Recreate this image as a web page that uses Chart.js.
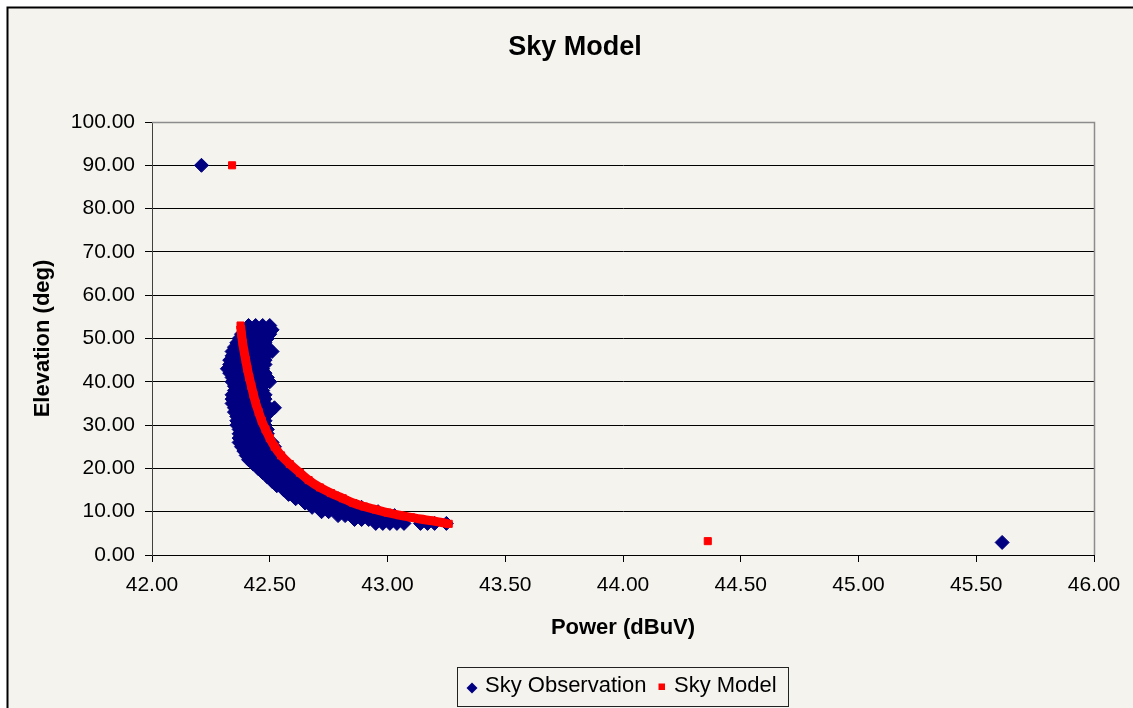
<!DOCTYPE html>
<html>
<head>
<meta charset="utf-8">
<title>Sky Model</title>
<script src="https://cdn.jsdelivr.net/npm/chart.js@4.4.1/dist/chart.umd.min.js"></script>
<style>
  html, body { margin: 0; padding: 0; background: #fff; }
  canvas { display: block; }
</style>
</head>
<body>
<canvas id="skyChart" width="1133" height="708"></canvas>
<script>
/**
 * Sky model vs. sky observation scatter (power against elevation)
 */

var powerRange = [42, 46];
var powerStep = 0.5;
var elevationRange = [0, 100];
var elevationStep = 10;

// observed power, one row per elevation: [elevation, power, power, ...]
var obsUpperRows = [
  [53.0, 42.41, 42.44, 42.47, 42.50],
  [52.0, 42.40, 42.43, 42.46, 42.49, 42.51],
  [51.0, 42.38, 42.41, 42.44, 42.47, 42.50],
  [50.0, 42.37, 42.40, 42.43, 42.46, 42.49],
  [49.0, 42.36, 42.39, 42.42, 42.45, 42.48],
  [48.0, 42.35, 42.38, 42.41, 42.44, 42.47, 42.49],
  [47.0, 42.34, 42.37, 42.40, 42.43, 42.46, 42.51],
  [46.0, 42.34, 42.37, 42.40, 42.43, 42.46, 42.48],
  [45.0, 42.33, 42.36, 42.39, 42.42, 42.45, 42.48],
  [44.0, 42.33, 42.36, 42.39, 42.42, 42.45, 42.48],
  [43.0, 42.32, 42.35, 42.38, 42.41, 42.44, 42.47],
  [42.0, 42.33, 42.36, 42.39, 42.42, 42.45, 42.48],
  [41.0, 42.34, 42.37, 42.40, 42.43, 42.46, 42.49],
  [40.0, 42.34, 42.37, 42.40, 42.43, 42.46, 42.50],
  [39.0, 42.35, 42.38, 42.41, 42.44, 42.47],
  [38.0, 42.35, 42.38, 42.41, 42.44, 42.47],
  [37.0, 42.34, 42.37, 42.40, 42.43, 42.46, 42.48],
  [36.0, 42.34, 42.37, 42.40, 42.43, 42.46, 42.48],
  [35.0, 42.34, 42.37, 42.40, 42.43, 42.46, 42.48],
  [34.0, 42.35, 42.38, 42.41, 42.44, 42.47, 42.52],
  [33.0, 42.35, 42.38, 42.41, 42.44, 42.47, 42.50],
  [32.0, 42.36, 42.39, 42.42, 42.45, 42.48],
  [31.0, 42.36, 42.39, 42.42, 42.45, 42.48],
  [30.0, 42.36, 42.39, 42.42, 42.45, 42.48],
  [29.0, 42.37, 42.40, 42.43, 42.46, 42.49],
  [28.0, 42.37, 42.40, 42.43, 42.46, 42.49],
  [27.0, 42.37, 42.40, 42.43, 42.46, 42.49],
  [26.0, 42.37, 42.40, 42.43, 42.46, 42.49, 42.51],
  [25.0, 42.38, 42.41, 42.44, 42.47, 42.50, 42.52]
];

var obsLowerRows = [
  [24.0, 42.39, 42.42, 42.45, 42.48, 42.51],
  [23.0, 42.40, 42.43, 42.46, 42.49, 42.52],
  [22.0, 42.41, 42.44, 42.47, 42.50, 42.53, 42.55],
  [21.0, 42.43, 42.46, 42.49, 42.52, 42.55, 42.57],
  [20.0, 42.45, 42.48, 42.51, 42.54, 42.57, 42.59],
  [19.0, 42.47, 42.50, 42.53, 42.56, 42.59, 42.61],
  [18.0, 42.49, 42.52, 42.55, 42.58, 42.61, 42.63],
  [17.0, 42.51, 42.54, 42.57, 42.60, 42.63, 42.655],
  [16.0, 42.53, 42.56, 42.59, 42.62, 42.65, 42.685],
  [15.0, 42.56, 42.59, 42.62, 42.65, 42.68, 42.71],
  [14.0, 42.58, 42.61, 42.64, 42.67, 42.70, 42.73, 42.75],
  [13.0, 42.61, 42.64, 42.67, 42.70, 42.73, 42.76, 42.79],
  [12.0, 42.65, 42.68, 42.71, 42.74, 42.77, 42.80, 42.83],
  [11.0, 42.68, 42.71, 42.74, 42.77, 42.80, 42.83, 42.86, 42.89],
  [10.0, 42.72, 42.75, 42.78, 42.81, 42.84, 42.87, 42.90, 42.93, 42.96],
  [9.1, 42.79, 42.82, 42.85, 42.88, 42.91, 42.94, 42.97, 43.00, 43.03],
  [8.2, 42.86, 42.89, 42.92, 42.95, 42.98, 43.01, 43.04],
  [7.3, 42.95, 42.98, 43.01, 43.04, 43.07, 43.14, 43.17, 43.20, 43.25]
];

// [power, elevation]
var obsOutliers = [[42.21, 90.0], [45.61, 2.9]];

var modelCurve = [
  [42.376, 53.0], [42.380, 51.0], [42.385, 49.0], [42.391, 47.0], [42.398, 45.0],
  [42.405, 43.0], [42.413, 41.0], [42.422, 39.0], [42.431, 37.0], [42.441, 35.0],
  [42.453, 33.0], [42.466, 31.0], [42.482, 29.0], [42.500, 27.0], [42.521, 25.0],
  [42.548, 23.0], [42.585, 21.0], [42.628, 19.0], [42.665, 17.3], [42.713, 15.6],
  [42.760, 14.3], [42.810, 13.1], [42.855, 12.0], [42.900, 11.2], [42.950, 10.5],
  [43.000, 9.8], [43.050, 9.2], [43.100, 8.7], [43.140, 8.3], [43.190, 7.9],
  [43.230, 7.5], [43.260, 7.2]
];

var modelOutliers = [[42.34, 90.0], [44.36, 3.2]];

var seriesNames = ["Sky Observation", "Sky Model"];

var NAVY = "#000080";
var RED = "#ff0000";
var FONT = '"Liberation Sans", Arial, sans-serif';


function rowsToPoints(rows) {
  var points = [];
  rows.forEach(function(row) {
    for (var i = 1; i < row.length; i++) {
      points.push({ x : row[i], y : row[0] });
    }
  });
  return points;
}

function pairsToPoints(pairs) {
  return pairs.map(function(p) {
    return { x : p[0], y : p[1] };
  });
}

/**
 * Outer frame, title, plot outline and the boxed legend
 */
var framePlugin = {
  id : "frame",

  beforeDraw : function(chart) {
    var ctx = chart.ctx;
    ctx.save();
    ctx.fillStyle = "#ffffff";
    ctx.fillRect(0, 0, chart.width, chart.height);
    ctx.fillStyle = "#f4f3ee";
    ctx.fillRect(8, 8, chart.width, chart.height);
    ctx.strokeStyle = "#000";
    ctx.lineWidth = 2;
    ctx.strokeRect(7.5, 7.5, chart.width + 20, chart.height + 20);

    ctx.fillStyle = "#000";
    ctx.font = "bold 27px " + FONT;
    ctx.textAlign = "center";
    ctx.textBaseline = "alphabetic";
    ctx.fillText("Sky Model", 575, 55);
    ctx.restore();
  },

  beforeDatasetsDraw : function(chart) {
    var a = chart.chartArea;
    var ctx = chart.ctx;
    ctx.save();
    ctx.strokeStyle = "#8c8c8c";
    ctx.lineWidth = 1.5;
    ctx.beginPath();
    ctx.moveTo(a.left, a.top + 0.5);
    ctx.lineTo(a.right + 0.5, a.top + 0.5);
    ctx.lineTo(a.right + 0.5, a.bottom);
    ctx.stroke();
    ctx.restore();
  },

  afterDraw : function(chart) {
    var ctx = chart.ctx;
    ctx.save();
    ctx.strokeStyle = "#222";
    ctx.lineWidth = 1;
    ctx.strokeRect(457.5, 667.5, 331, 39);

    // diamond
    ctx.fillStyle = NAVY;
    ctx.beginPath();
    ctx.moveTo(472, 682.5);
    ctx.lineTo(477.5, 688);
    ctx.lineTo(472, 693.5);
    ctx.lineTo(466.5, 688);
    ctx.closePath();
    ctx.fill();

    // square
    ctx.fillStyle = RED;
    ctx.fillRect(658.5, 683.5, 6.5, 6.5);

    ctx.fillStyle = "#000";
    ctx.font = "22px " + FONT;
    ctx.textAlign = "left";
    ctx.textBaseline = "alphabetic";
    ctx.fillText(seriesNames[0], 485, 692);
    ctx.fillText(seriesNames[1], 674, 692);
    ctx.restore();
  }
};

Chart.defaults.font.family = FONT;
Chart.defaults.color = "#000";

var chart = new Chart(document.getElementById("skyChart"), {
  type : "scatter",
  data : {
    datasets : [{
      label : seriesNames[1],
      data : pairsToPoints(modelCurve),
      order : 0,
      showLine : true,
      cubicInterpolationMode : "monotone",
      borderColor : RED,
      backgroundColor : RED,
      borderWidth : 9,
      borderJoinStyle : "round",
      pointStyle : "rect",
      pointRadius : 5,
      pointBorderWidth : 1
    }, {
      label : seriesNames[1],
      data : pairsToPoints(modelOutliers),
      order : 1,
      borderColor : RED,
      backgroundColor : RED,
      pointStyle : "rect",
      pointRadius : 5,
      pointBorderWidth : 1
    }, {
      label : seriesNames[0],
      data : rowsToPoints(obsUpperRows).concat(rowsToPoints(obsLowerRows), pairsToPoints(obsOutliers)),
      order : 2,
      borderColor : NAVY,
      backgroundColor : NAVY,
      pointStyle : "rectRot",
      pointRadius : 7,
      pointBorderWidth : 1
    }]
  },
  options : {
    responsive : false,
    animation : false,
    devicePixelRatio : 1,
    layout : {
      padding : { left : 20, right : 39, top : 122, bottom : 0 }
    },
    plugins : {
      legend : { display : false },
      title : { display : false },
      tooltip : { enabled : false }
    },
    scales : {
      x : {
        type : "linear",
        min : powerRange[0],
        max : powerRange[1],
        afterFit : function(scale) {
          scale.height = 153;
        },
        ticks : {
          stepSize : powerStep,
          padding : 11,
          font : { size : 21 },
          color : "#000",
          callback : function(value) {
            return value.toFixed(2);
          }
        },
        grid : {
          drawOnChartArea : false,
          drawTicks : true,
          tickLength : 7,
          tickColor : "#000"
        },
        border : { color : "#000", width : 1 },
        title : {
          display : true,
          text : "Power (dBuV)",
          font : { size : 22, weight : "bold" },
          color : "#000",
          padding : { top : 0, bottom : 67 }
        }
      },
      y : {
        type : "linear",
        min : elevationRange[0],
        max : elevationRange[1],
        afterFit : function(scale) {
          scale.width = 132;
        },
        ticks : {
          stepSize : elevationStep,
          padding : 10,
          font : { size : 21 },
          color : "#000",
          callback : function(value) {
            return value.toFixed(2);
          }
        },
        grid : {
          color : function(ctx) {
            return ctx.tick && ctx.tick.value === elevationRange[1] ? "#8c8c8c" : "#000";
          },
          tickLength : 7,
          tickColor : "#000"
        },
        border : { color : "#404040", width : 1 },
        title : {
          display : true,
          text : "Elevation (deg)",
          font : { size : 22, weight : "bold" },
          color : "#000",
          padding : { top : 10, bottom : 0 }
        }
      }
    }
  },
  plugins : [framePlugin]
});
</script>
</body>
</html>
